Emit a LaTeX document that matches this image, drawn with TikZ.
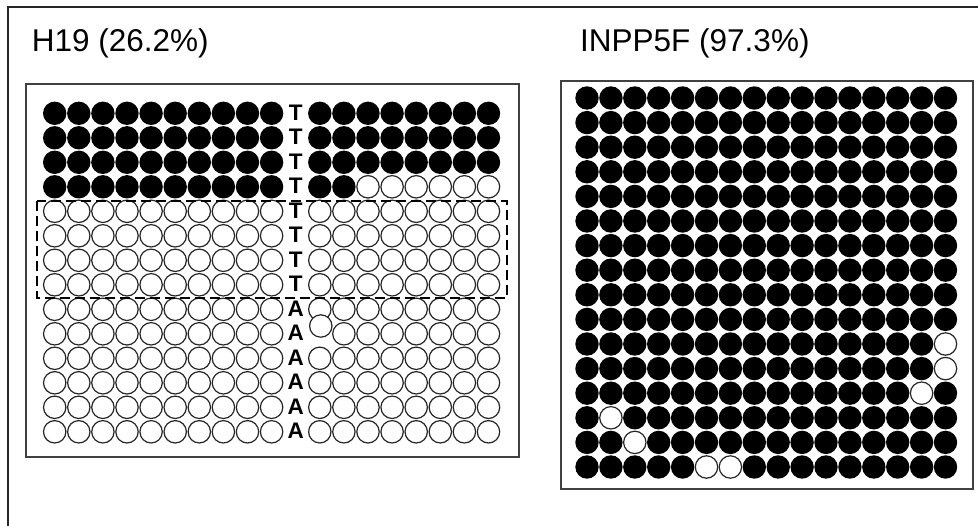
\documentclass[tikz,border=0pt]{standalone}
\usepackage{fontspec}
\setmainfont{Liberation Sans}
\begin{document}
\begin{tikzpicture}[x=1pt,y=-1pt,
  frameline/.style={line width=1.8pt,draw=black!85},
  boxline/.style={line width=1.2pt,draw=black!75},
  opendot/.style={line width=1.2pt,draw=black!85,fill=white},
  fulldot/.style={fill=black},
  titletext/.style={anchor=base west,inner sep=0pt,font=\fontsize{31.5}{36}\selectfont},
  basetext/.style={inner sep=0pt,font=\fontsize{22.5}{26}\selectfont\bfseries},
  selbox/.style={line width=2.3pt,dashed,dash pattern=on 10pt off 5pt,draw=black}]
\useasboundingbox (0,0) rectangle (978,526);
\clip (0,0) rectangle (978,526);
% outer frame
\draw[frameline] (8,540) -- (8,7) -- (990,7);
% titles
\node[titletext] (title1) at (31.7,51.7) {H19 (26.2\%)};
\node[titletext] (title2) at (580,51.7) {INPP5F (97.3\%)};
% boxes
\draw[boxline] (26,84) rectangle (519,457);
\draw[boxline] (561,81) rectangle (973,489);
% left grid
\foreach \r in {1,...,14}{
  \foreach \c in {1,...,10,12,13,14,15,16,17,18,19}{
    \pgfmathsetmacro\xx{54.7+(\c-1)*24.1}
    \pgfmathsetmacro\yy{113.3+(\r-1)*24.5}
    \pgfmathtruncatemacro\isblack{((\r<4)||((\r==4)&&(\c<14)))?1:0}
    \pgfmathtruncatemacro\skipit{((\r==10)&&(\c==12))?1:0}
    \ifnum\skipit=0
      \ifnum\isblack=1
        \fill[fulldot] (\xx,\yy) circle (11.7);
      \else
        \draw[opendot] (\xx,\yy) circle (11.2);
      \fi
    \fi
  }
}
% displaced circle
\draw[opendot] (320.8,326) circle (11.2);
% letters
\foreach \r in {1,...,8}{
  \node[basetext] (base\r) at (295.7,{112.6+(\r-1)*24.5}) {T};
}
\foreach \r in {9,...,14}{
  \node[basetext] (base\r) at (295.7,{112.6+(\r-1)*24.5}) {A};
}
% dashed selection
\draw[selbox] (37,201) rectangle (507,298);
% right grid
\foreach \r in {1,...,16}{
  \foreach \c in {1,...,16}{
    \pgfmathsetmacro\xx{587+(\c-1)*23.9}
    \pgfmathsetmacro\yy{98+(\r-1)*24.6}
    \pgfmathtruncatemacro\isw{((\r==11)&&(\c==16))||((\r==12)&&(\c==16))||((\r==13)&&(\c==15))||((\r==14)&&(\c==2))||((\r==15)&&(\c==3))||((\r==16)&&((\c==6)||(\c==7)))?1:0}
    \ifnum\isw=1
      \draw[opendot] (\xx,\yy) circle (11.2);
    \else
      \fill[fulldot] (\xx,\yy) circle (11.7);
    \fi
  }
}
\end{tikzpicture}
\end{document}
